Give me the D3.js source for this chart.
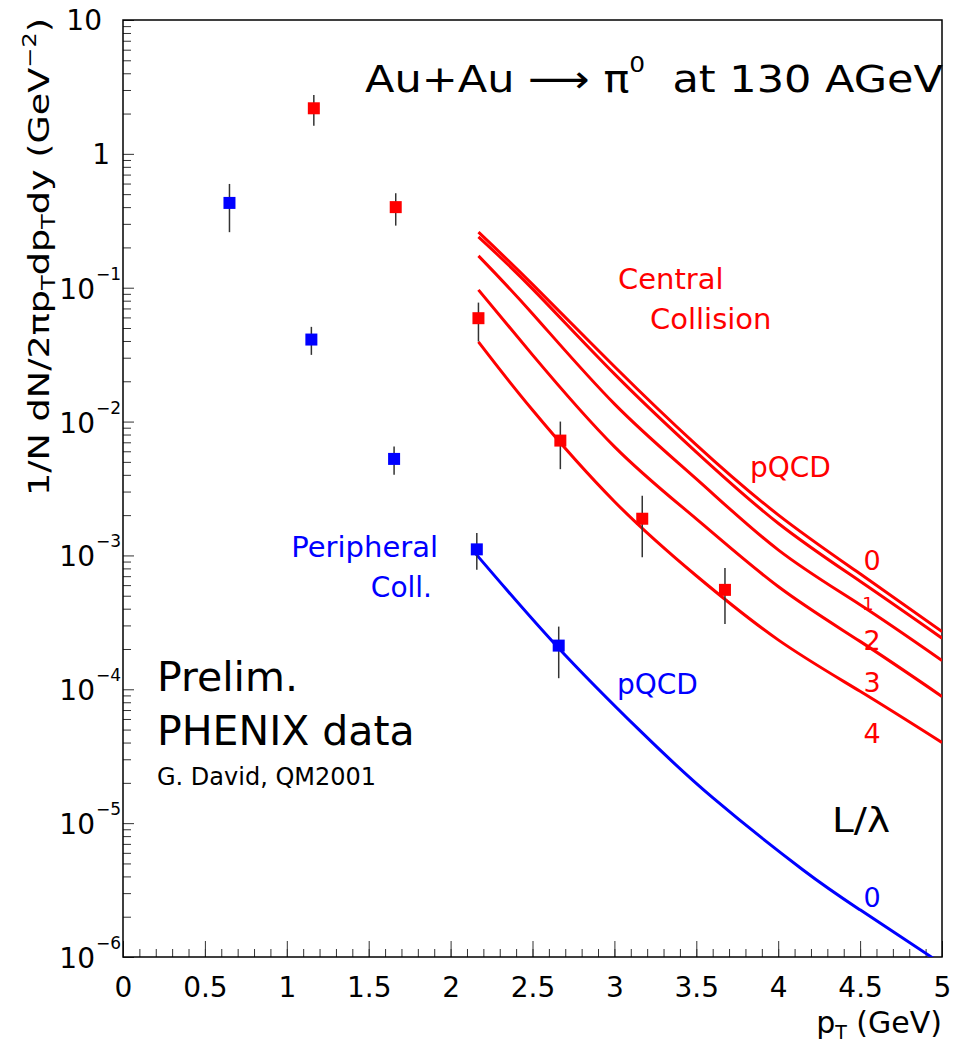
<!DOCTYPE html>
<html>
<head>
<meta charset="utf-8">
<script src="https://cdn.jsdelivr.net/npm/d3@7"></script>
<style>
  body { margin: 0; background: #fff; }
  svg { display: block; }
  text { font-family: "DejaVu Sans", sans-serif; white-space: pre; }
</style>
</head>
<body>
<svg id="chart" width="957" height="1063"></svg>
<script>
// ---- pi0 yields, Au+Au at 130 AGeV (PHENIX preliminary) ----
// Central collisions
const centralPt    = [1.165, 1.665, 2.17, 2.67, 3.17, 3.675];
const centralYield = [2.19, 0.40, 0.0592, 0.00721, 0.00188, 5.53e-4];
const centralLow   = [1.62, 0.291, 0.0396, 0.00441, 9.7e-4, 3.08e-4];
const centralHigh  = [2.75, 0.508, 0.0774, 0.0100, 0.00279, 8.04e-4];

// Peripheral collisions
const periphPt    = [0.65, 1.15, 1.655, 2.16, 2.66];
const periphYield = [0.43, 0.041, 0.00526, 0.00111, 2.12e-4];
const periphLow   = [0.26, 0.0315, 0.0040, 7.8e-4, 1.21e-4];
const periphHigh  = [0.596, 0.051, 0.0065, 0.00147, 2.94e-4];

// pQCD with energy loss, central, L/lambda = 0..4
const pqcdPt  = [2.17, 2.5, 3.0, 3.5, 4.0, 4.5, 5.0];
const pqcdL0  = [0.26, 0.106, 0.0258, 0.0067, 0.00201, 7.29e-4, 2.70e-4];
const pqcdL1  = [0.24, 0.098, 0.0227, 0.00591, 0.00174, 6.41e-4, 2.41e-4];
const pqcdL2  = [0.173, 0.0640, 0.01356, 0.00373, 0.00110, 4.28e-4, 1.64e-4];
const pqcdL3  = [0.0964, 0.0315, 0.0065, 0.001875, 5.86e-4, 2.28e-4, 8.84e-5];
const pqcdL4  = [0.0394, 0.0122, 0.00253, 7.05e-4, 2.34e-4, 9.66e-5, 4.0e-5];

// pQCD, peripheral, L/lambda = 0
const pqcdPeriphPt = [2.15, 2.65, 3.15, 3.6, 4.15, 4.5, 4.93, 5.0];
const pqcdPeriph   = [1.04e-3, 2.09e-4, 4.99e-5, 1.55e-5, 4.49e-6, 2.25e-6, 1.01e-6, 8.85e-7];

// Axis ticks
const xMajorTicks = [0, 0.5, 1, 1.5, 2, 2.5, 3, 3.5, 4, 4.5, 5];
const xTickLabels = ["0", "0.5", "1", "1.5", "2", "2.5", "3", "3.5", "4", "4.5", "5"];
const yDecadeExponents = [-6, -5, -4, -3, -2, -1, 0, 1];

const RED = "#ff0000", BLUE = "#0000ff";

const svg = d3.select("#chart");
const plot = { left: 123, right: 942, top: 20, bottom: 957 };

const x = d3.scaleLinear().domain([0, 5]).range([plot.left, plot.right]);
const y = d3.scaleLog().domain([1e-6, 10]).range([plot.bottom, plot.top]);

svg.append("defs").append("clipPath").attr("id", "plotClip")
  .append("rect")
  .attr("x", plot.left).attr("y", plot.top)
  .attr("width", plot.right - plot.left).attr("height", plot.bottom - plot.top);

// ---- X axis ticks (inward) ----
const xMinor = d3.range(0, 5.0001, 0.1).map(v => +v.toFixed(2));
svg.append("g")
  .attr("transform", `translate(0,${plot.bottom})`)
  .call(d3.axisBottom(x).tickValues(xMinor).tickSizeInner(-8).tickSizeOuter(0).tickFormat(""))
  .call(g => g.select(".domain").remove())
  .call(g => g.selectAll("line").attr("stroke", "#333").attr("stroke-width", 1));

svg.append("g")
  .attr("transform", `translate(0,${plot.bottom})`)
  .call(d3.axisBottom(x).tickValues(xMajorTicks).tickSizeInner(-16).tickSizeOuter(0)
    .tickPadding(20).tickFormat((d, i) => xTickLabels[i]))
  .call(g => g.select(".domain").remove())
  .call(g => g.selectAll("line").attr("stroke", "#333").attr("stroke-width", 1))
  .call(g => g.selectAll("text")
    .attr("fill", "#000").attr("font-size", 28)
    .attr("font-family", "\"DejaVu Sans\", sans-serif"));

// ---- Y axis ticks (log, inward) ----
const yMinor = [];
yDecadeExponents.slice(0, -1).forEach(e => {
  for (let k = 2; k <= 9; k++) yMinor.push(k * Math.pow(10, e));
});
const yMajor = yDecadeExponents.map(e => Math.pow(10, e));

svg.append("g")
  .attr("transform", `translate(${plot.left},0)`)
  .call(d3.axisLeft(y).tickValues(yMinor).tickSizeInner(-8).tickSizeOuter(0).tickFormat(""))
  .call(g => g.select(".domain").remove())
  .call(g => g.selectAll("line").attr("stroke", "#333").attr("stroke-width", 1));

svg.append("g")
  .attr("transform", `translate(${plot.left},0)`)
  .call(d3.axisLeft(y).tickValues(yMajor).tickSizeInner(-11).tickSizeOuter(0).tickFormat(""))
  .call(g => g.select(".domain").remove())
  .call(g => g.selectAll("line").attr("stroke", "#333").attr("stroke-width", 1));

// Decade labels: 10, 1, and 10 with superscript exponent
const yLab = svg.append("g").attr("fill", "#000");
yDecadeExponents.forEach(e => {
  const yy = y(Math.pow(10, e));
  if (e === 0) {
    yLab.append("text").attr("x", 110).attr("y", yy + 10)
      .attr("text-anchor", "end").attr("font-size", 28).text("1");
  } else if (e === 1) {
    yLab.append("text").attr("x", 102).attr("y", yy + 10)
      .attr("text-anchor", "end").attr("font-size", 28).text("10");
  } else {
    yLab.append("text").attr("x", 95).attr("y", yy + 11)
      .attr("text-anchor", "end").attr("font-size", 28).text("10");
    yLab.append("text").attr("x", 96).attr("y", yy - 8)
      .attr("text-anchor", "start").attr("font-size", 17).text("\u2212" + (-e));
  }
});

// ---- Frame ----
svg.append("rect")
  .attr("x", plot.left).attr("y", plot.top)
  .attr("width", plot.right - plot.left).attr("height", plot.bottom - plot.top)
  .attr("fill", "none").attr("stroke", "#000").attr("stroke-width", 1.5);

// ---- pQCD curves ----
const line = d3.line().x(d => x(d[0])).y(d => y(d[1])).curve(d3.curveNatural);
const curves = svg.append("g").attr("clip-path", "url(#plotClip)").attr("fill", "none")
  .attr("stroke-width", 3);

[pqcdL0, pqcdL1, pqcdL2, pqcdL3, pqcdL4].forEach(vals => {
  curves.append("path")
    .attr("d", line(d3.zip(pqcdPt, vals)))
    .attr("stroke", RED);
});
curves.append("path")
  .attr("d", line(d3.zip(pqcdPeriphPt, pqcdPeriph)))
  .attr("stroke", BLUE);

// ---- Data points with error bars ----
function drawPoints(pts, vals, lo, hi, color) {
  const g = svg.append("g").attr("clip-path", "url(#plotClip)");
  const rows = pts.map((p, i) => ({ p, v: vals[i], lo: lo[i], hi: hi[i] }));
  g.selectAll("line.err").data(rows).join("line")
    .attr("class", "err")
    .attr("x1", d => x(d.p)).attr("x2", d => x(d.p))
    .attr("y1", d => y(d.hi)).attr("y2", d => y(d.lo))
    .attr("stroke", "#333").attr("stroke-width", 1.5);
  g.selectAll("rect.pt").data(rows).join("rect")
    .attr("class", "pt")
    .attr("x", d => x(d.p) - 6).attr("y", d => y(d.v) - 6)
    .attr("width", 12).attr("height", 12)
    .attr("fill", color);
}
drawPoints(periphPt, periphYield, periphLow, periphHigh, BLUE);
drawPoints(centralPt, centralYield, centralLow, centralHigh, RED);

// ---- Text annotations ----
function txt(str, xx, yy, size, color, anchor) {
  return svg.append("text").attr("x", xx).attr("y", yy)
    .attr("font-size", size).attr("fill", color || "#000")
    .attr("text-anchor", anchor || "start").text(str);
}

// Title
const title = svg.append("text").attr("x", 365).attr("y", 92)
  .attr("font-size", 38).attr("fill", "#000")
  .attr("textLength", 578).attr("lengthAdjust", "spacingAndGlyphs");
title.append("tspan").text("Au+Au \u27F6 \u03C0");
title.append("tspan").attr("font-size", 22).attr("dy", -20).text("0");
title.append("tspan").attr("dy", 20).text("  at 130 AGeV");

// Central collision labels
txt("Central", 618, 289, 29, RED);
txt("Collision", 650, 329, 29, RED);
txt("pQCD", 750, 477, 28, RED);
txt("0", 872, 570, 27, RED, "middle");
txt("1", 868, 610, 18, RED, "middle");
txt("2", 872, 650, 27, RED, "middle");
txt("3", 872, 692, 27, RED, "middle");
txt("4", 872, 743, 27, RED, "middle");
txt("L/\u03BB", 832, 832, 34, "#000").attr("textLength", 58).attr("lengthAdjust", "spacingAndGlyphs");
txt("0", 872, 907, 27, BLUE, "middle");

// Peripheral labels
txt("Peripheral", 438, 557, 29, BLUE, "end");
txt("Coll.", 432, 597, 28, BLUE, "end");
txt("pQCD", 617, 694, 28, BLUE);

// Source note
txt("Prelim.", 157, 691, 41, "#000");
txt("PHENIX data", 157, 745, 41, "#000");
txt("G. David, QM2001", 157, 785, 24, "#000");

// ---- Axis titles ----
const xt = svg.append("text").attr("x", 942).attr("y", 1033)
  .attr("font-size", 30).attr("fill", "#000").attr("text-anchor", "end");
xt.append("tspan").text("p");
xt.append("tspan").attr("font-size", 19).attr("dy", 6).text("T");
xt.append("tspan").attr("dy", -6).text(" (GeV)");

const yt = svg.append("text")
  .attr("transform", "translate(49,257) rotate(-90)")
  .attr("font-size", 29).attr("fill", "#000").attr("text-anchor", "middle")
  .attr("textLength", 478).attr("lengthAdjust", "spacingAndGlyphs");
yt.append("tspan").text("1/N dN/2\u03C0p");
yt.append("tspan").attr("font-size", 19).attr("dy", 6).text("T");
yt.append("tspan").attr("dy", -6).text("dp");
yt.append("tspan").attr("font-size", 19).attr("dy", 6).text("T");
yt.append("tspan").attr("dy", -6).text("dy (GeV");
yt.append("tspan").attr("font-size", 19).attr("dy", -13).text("\u22122");
yt.append("tspan").attr("dy", 13).text(")");
</script>
</body>
</html>
